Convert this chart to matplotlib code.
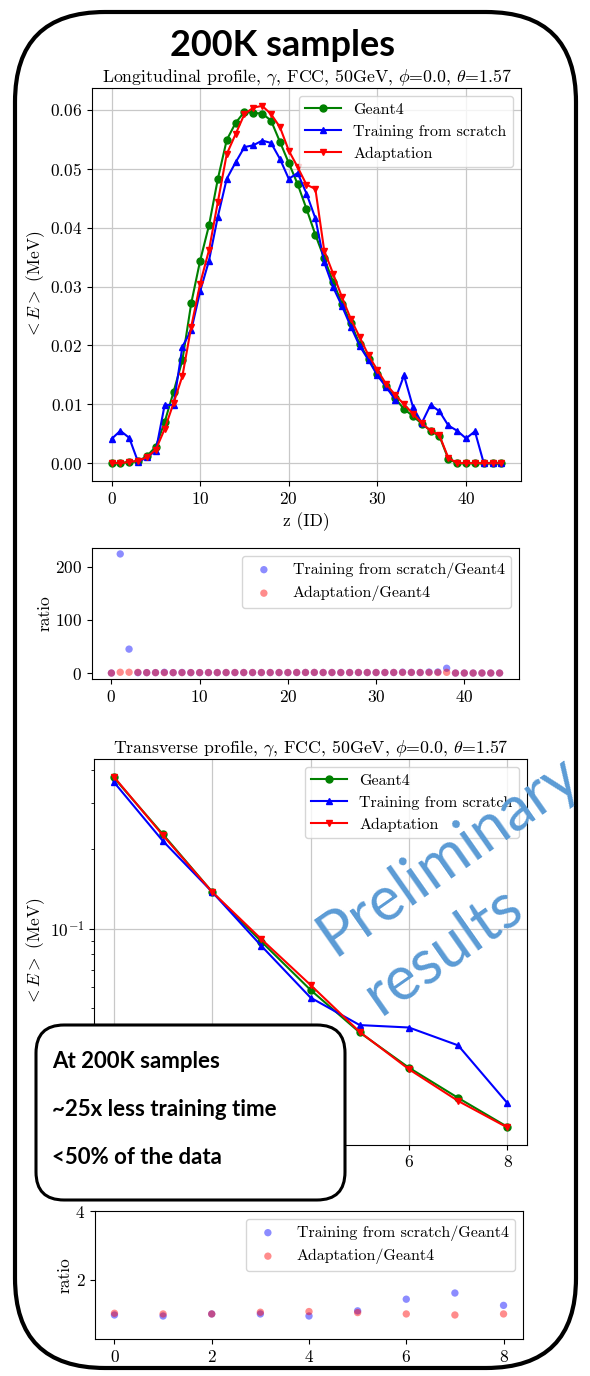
import matplotlib
matplotlib.use("Agg")
import matplotlib.pyplot as plt
from matplotlib.patches import FancyBboxPatch
from matplotlib.ticker import NullFormatter

plt.rcParams["font.family"] = "serif"
plt.rcParams["font.serif"] = ["cmr10", "DejaVu Serif"]
plt.rcParams["mathtext.fontset"] = "cm"
plt.rcParams["axes.formatter.use_mathtext"] = True
plt.rcParams["font.size"] = 12.5

# Longitudinal profile (mean energy per layer)
z_layers = list(range(45))
geant4_long = [0, 0, 0.0002, 0.0003, 0.0012, 0.0028, 0.0070, 0.0121, 0.0175, 0.0272,
               0.0344, 0.0404, 0.0483, 0.0549, 0.0578, 0.0597, 0.0595, 0.0594, 0.0582, 0.0546,
               0.0510, 0.0474, 0.0432, 0.0388, 0.0348, 0.0308, 0.0271, 0.0238, 0.0202, 0.0177,
               0.0151, 0.0131, 0.0110, 0.0092, 0.0080, 0.0067, 0.0055, 0.0046, 0.0007, 0,
               0, 0, 0, 0, 0]
scratch_long = [0.0041, 0.0055, 0.0043, 0.0002, 0.0010, 0.0021, 0.0099, 0.0099, 0.0198, 0.0226,
                0.0292, 0.0344, 0.0419, 0.0483, 0.0511, 0.0537, 0.0540, 0.0548, 0.0544, 0.0517,
                0.0483, 0.0493, 0.0458, 0.0416, 0.0341, 0.0299, 0.0267, 0.0232, 0.0199, 0.0175,
                0.0149, 0.0129, 0.0108, 0.0149, 0.0096, 0.0068, 0.0099, 0.0088, 0.0064, 0.0055,
                0.0042, 0.0054, 0, 0, 0]
adapt_long = [0, 0, 0.0002, 0.0004, 0.0010, 0.0023, 0.0058, 0.0102, 0.0148, 0.0232,
              0.0305, 0.0362, 0.0444, 0.0525, 0.0559, 0.0593, 0.0604, 0.0607, 0.0593, 0.0571,
              0.0531, 0.0503, 0.0473, 0.0466, 0.0361, 0.0322, 0.0282, 0.0245, 0.0214, 0.0183,
              0.0158, 0.0134, 0.0116, 0.0100, 0.0084, 0.0068, 0.0055, 0.0047, 0.0009, 0,
              0, 0, 0, 0, 0]

# Ratios as shown in the lower panel
ratio_scratch_long = [0, 224, 45, 0.7, 0.8, 0.8, 1.4, 0.8, 1.1, 0.8,
                      0.8, 0.9, 0.9, 0.9, 0.9, 0.9, 0.9, 0.9, 0.9, 0.9,
                      0.9, 1.0, 1.1, 1.1, 1.0, 1.0, 1.0, 1.0, 1.0, 1.0,
                      1.0, 1.0, 1.0, 1.6, 1.2, 1.0, 1.8, 1.9, 9, 0,
                      0, 0, 0, 0, 0]
ratio_adapt_long = [0, 1.5, 1.5, 1.3, 0.8, 0.8, 0.8, 0.8, 0.8, 0.9,
                    0.9, 0.9, 0.9, 1.0, 1.0, 1.0, 1.0, 1.0, 1.0, 1.0,
                    1.0, 1.1, 1.1, 1.2, 1.0, 1.0, 1.0, 1.0, 1.1, 1.0,
                    1.0, 1.0, 1.1, 1.1, 1.1, 1.0, 1.0, 1.0, 1.3, 0,
                    0, 0, 0, 0, 0]

# Transverse profile
r_bins = list(range(9))
geant4_tr = [0.374, 0.228, 0.138, 0.0895, 0.0587, 0.0405, 0.0298, 0.0229, 0.0178]
scratch_tr = [0.360, 0.215, 0.138, 0.0862, 0.0549, 0.0432, 0.0423, 0.0362, 0.0219]
adapt_tr = [0.377, 0.226, 0.138, 0.0914, 0.0613, 0.0407, 0.0294, 0.0223, 0.0177]
ratio_scratch_tr = [0.97, 0.94, 1.0, 1.0, 0.94, 1.09, 1.43, 1.61, 1.25]
ratio_adapt_tr = [1.02, 1.0, 1.0, 1.05, 1.07, 1.04, 1.0, 0.97, 1.0]

W, H = 590, 1376
fig = plt.figure(figsize=(W / 100, H / 100), dpi=100)


def box(left, top, right, bottom):
    # pixel box -> figure fraction
    return [left / W, (H - bottom) / H, (right - left) / W, (bottom - top) / H]


def profile(ax, x, g4, sc, ad):
    ax.plot(x, g4, "-o", color="green", lw=1.5, ms=5, label="Geant4")
    ax.plot(x, sc, "-^", color="blue", lw=1.5, ms=5, label="Training from scratch")
    ax.plot(x, ad, "-v", color="red", lw=1.5, ms=5, label="Adaptation")
    ax.grid(True, color="#c8c8c8", lw=0.9)
    ax.legend(loc="upper right", fontsize=11.5, handlelength=2.2, borderaxespad=0.5)
    ax.set_ylabel(r"$<E>$ (MeV)", labelpad=2)


def ratio(ax, x, sc, ad):
    ax.scatter(x, sc, s=28, color="blue", alpha=0.45, edgecolors="none",
               label="Training from scratch/Geant4")
    ax.scatter(x, ad, s=28, color="red", alpha=0.45, edgecolors="none",
               label="Adaptation/Geant4")
    ax.set_ylabel("ratio", labelpad=2)
    ax.legend(loc="upper right", fontsize=11.5, borderaxespad=0.5)


title_tail = r", $\gamma$, FCC, 50GeV, $\phi$=0.0, $\theta$=1.57"

# Longitudinal
ax1 = fig.add_axes(box(92, 88, 521, 481))
profile(ax1, z_layers, geant4_long, scratch_long, adapt_long)
ax1.set_title("Longitudinal profile" + title_tail, fontsize=12.8, pad=4)
ax1.set_xlabel("z (ID)")
ax1.set_xticks([0, 10, 20, 30, 40])

ax2 = fig.add_axes(box(92, 548, 519, 679))
ratio(ax2, z_layers, ratio_scratch_long, ratio_adapt_long)
ax2.set_xticks([0, 10, 20, 30, 40])
ax2.set_yticks([0, 100, 200])

# Transverse
ax3 = fig.add_axes(box(94, 759, 527, 1145))
profile(ax3, r_bins, geant4_tr, scratch_tr, adapt_tr)
ax3.set_yscale("log")
ax3.yaxis.set_minor_formatter(NullFormatter())
ax3.grid(True, which="major", color="#c8c8c8", lw=0.9)
ax3.set_title("Transverse profile" + title_tail, fontsize=12.8, pad=4)
# labels 0-4 sit under the note box in the slide
ax3.set_xticks([0, 2, 4, 6, 8], ["", "", "", "6", "8"])

ax4 = fig.add_axes(box(95, 1211, 523, 1339))
ratio(ax4, r_bins, ratio_scratch_tr, ratio_adapt_tr)
ax4.set_ylim(0.27, 4)
ax4.set_yticks([2, 4])
ax4.set_xticks([0, 2, 4, 6, 8])

# Overlay in pixel coordinates: frame, headline, note box, watermark
ov = fig.add_axes([0, 0, 1, 1], zorder=10)
ov.set_xlim(0, W)
ov.set_ylim(H, 0)
ov.axis("off")
ov.patch.set_alpha(0)

ov.text(448, 856, "Preliminary", family="Lato", fontsize=44, color="#5B9BD5",
        rotation=35, ha="center", va="center", rotation_mode="anchor")
ov.text(443, 950, "results", family="Lato", fontsize=44, color="#5B9BD5",
        rotation=35, ha="center", va="center", rotation_mode="anchor")

ov.add_patch(FancyBboxPatch((15, 12), 561, 1356, boxstyle="round,pad=0,rounding_size=90",
                            fill=False, ec="black", lw=3.0))
ov.text(283, 45, "200K samples", family="Lato", weight="bold", fontsize=26,
        ha="center", va="center")

ov.add_patch(FancyBboxPatch((36, 1025), 309, 175, boxstyle="round,pad=0,rounding_size=28",
                            fc="white", ec="black", lw=2.2))
for y, line in zip([1062, 1110, 1158], ["At 200K samples", "~25x less training time",
                                          "<50% of the data"]):
    ov.text(52, y, line, family="Lato", weight="bold", fontsize=16, ha="left", va="center")

fig.savefig("out.png", dpi=100)
